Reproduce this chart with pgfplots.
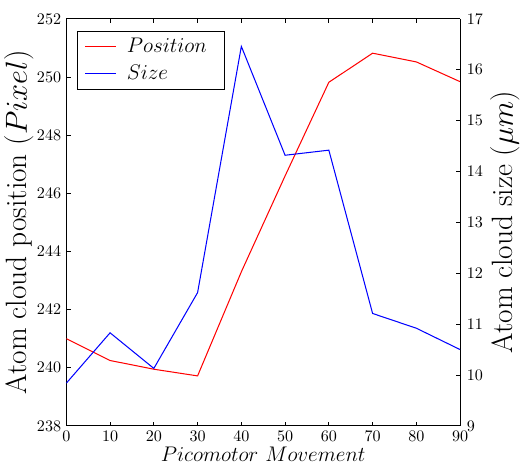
\documentclass[border=0pt]{standalone}
\usepackage{pgfplots}
\pgfplotsset{compat=1.18}
\begin{document}
\begin{tikzpicture}
\pgfplotsset{
  every axis/.append style={
    width=268pt, height=277pt, scale only axis,
    xmin=0, xmax=90,
    axis line style={black, line width=0.8pt},
    tick style={black, line width=0.6pt},
    tick align=inside,
    major tick length=3pt,
    ticklabel style={font=\fontsize{11}{13}\selectfont},
  },
}
% position, left axis
\begin{axis}[
  ymin=238, ymax=252,
  ytick={238,240,...,252},
  xtick={0,10,...,90},
  axis x line*=box,
  xtick pos=both,
  axis y line*=left,
  xlabel={$Picomotor\ Movement$},
  ylabel={Atom cloud position ($Pixel$)},
  xlabel style={font=\fontsize{15.5}{18}\selectfont, yshift=3pt},
  ylabel style={font=\fontsize{20}{24}\selectfont, yshift=-5pt},
]
\addplot[red, line width=0.7pt] coordinates {
  (0,241.0) (10,240.25) (20,239.95) (30,239.72) (40,243.3)
  (50,246.6) (60,249.82) (70,250.82) (80,250.52) (90,249.84)
};
\end{axis}
% size, right axis
\begin{axis}[
  ymin=9, ymax=17,
  ytick={9,10,...,17},
  yticklabel style={xshift=1pt},
  axis y line*=right,
  axis x line=none,
  ylabel={Atom cloud size ($\mu m$)},
  ylabel style={font=\fontsize{20}{24}\selectfont, yshift=1.5pt},
  legend style={at={(0.027,0.971)}, anchor=north west, draw=black, line width=0.6pt,
    font=\Large, row sep=3pt, inner xsep=5pt, inner ysep=3pt,
    nodes={inner xsep=7pt}},
  legend cell align={left},
  legend image code/.code={\draw[#1, line width=0.7pt] (0pt,0pt) -- (21pt,0pt);},
]
\addlegendimage{color=red}
\addlegendentry{$Position$}
\addplot[color=blue, line width=0.7pt] coordinates {
  (0,9.84) (10,10.83) (20,10.13) (30,11.62) (40,16.46)
  (50,14.32) (60,14.42) (70,11.21) (80,10.92) (90,10.50)
};
\addlegendentry{$Size$}
\end{axis}
% room above the axis, as in the reference
\path ([yshift=6pt]current bounding box.north);
\end{tikzpicture}
\end{document}
